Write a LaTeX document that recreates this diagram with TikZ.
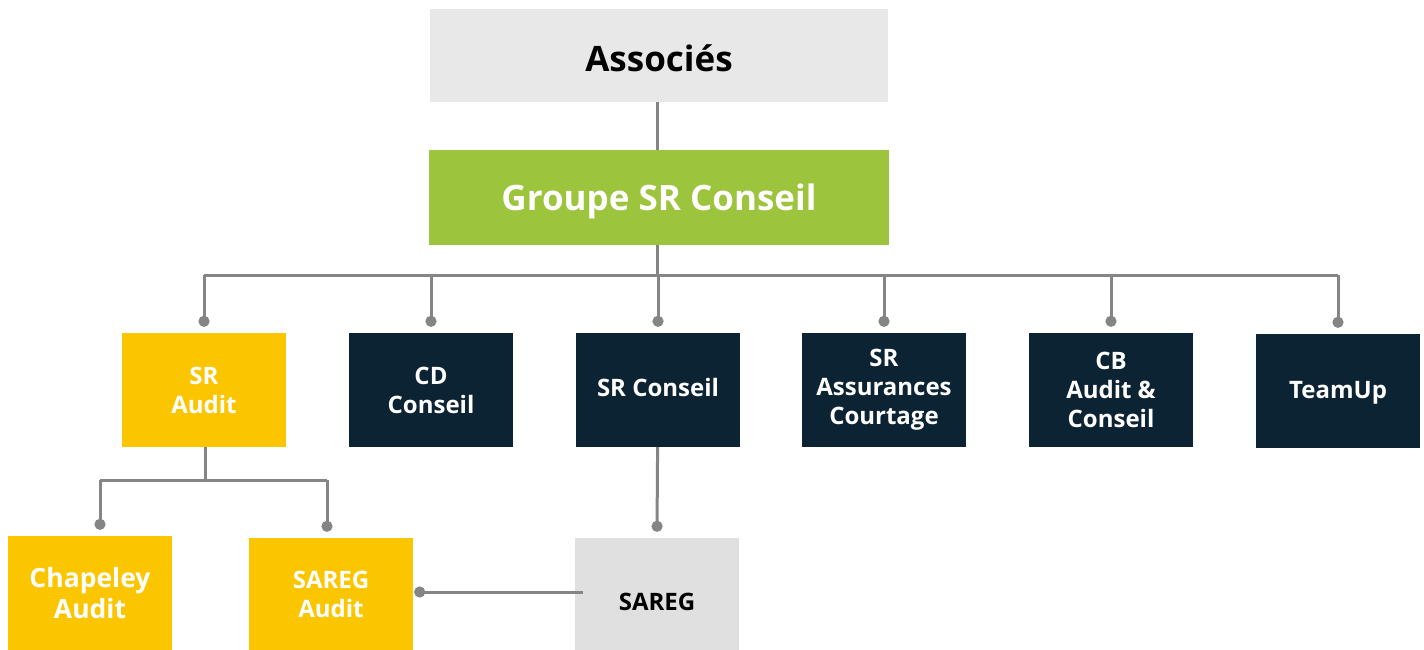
\documentclass[tikz,border=0pt]{standalone}
\usepackage{fontspec}
\setmainfont{Open Sans}
\usepackage{tikz}
\usetikzlibrary{arrows.meta}

\definecolor{topgray}{HTML}{E8E8E8}
\definecolor{saregray}{HTML}{E0E0E0}
\definecolor{groupgreen}{HTML}{9CC43C}
\definecolor{audityellow}{HTML}{FBC600}
\definecolor{navy}{HTML}{0C2333}
\definecolor{linkgray}{HTML}{858585}

% move a one-line label up or down inside its box
\newcommand{\nudge}[2]{\raisebox{#1}[\height][\depth]{#2}}

\begin{document}
\begin{tikzpicture}[x=1pt,y=-1pt,
    unit/.style={minimum width=164pt, minimum height=114pt, inner sep=0pt, align=center,
        font=\bfseries\fontsize{24}{29}\selectfont, text=white},
    navybox/.style={unit, fill=navy},
    yellowbox/.style={unit, fill=audityellow},
    banner/.style={minimum height=94pt, inner sep=0pt, font=\bfseries\fontsize{35}{40}\selectfont},
    link/.style={linkgray, line width=3pt},
    dotlink/.style={link, -{Circle[length=11pt]}}]
    \useasboundingbox (0,0) rectangle (1424,650);
    % top of the group
    \node[banner, fill=topgray, minimum width=458pt, minimum height=93pt] (assoc) at (659,55.5) {\nudge{-3pt}{Associés}};
    \node[banner, fill=groupgreen, text=white, minimum width=460pt, minimum height=95pt] (groupe) at (659,197.5) {\nudge{-4pt}{Groupe SR Conseil}};
    % subsidiaries
    \node[yellowbox] (sraudit) at (204,390) {SR\\Audit};
    \node[navybox] (cdconseil) at (431,390) {CD\\Conseil};
    \node[navybox] (srconseil) at (658,390) {\nudge{3pt}{SR Conseil}};
    \node[navybox] (srassur) at (884,390) {SR\\Assurances\\Courtage};
    \node[navybox] (cbaudit) at (1111,390) {CB\\Audit \&\\Conseil};
    \node[navybox] (teamup) at (1338,391) {\nudge{-2pt}{TeamUp}};
    % second level
    \node[yellowbox, font=\bfseries\fontsize{26.5}{31}\selectfont] (chapeley) at (90,593) {Chapeley\\Audit};
    \node[yellowbox, minimum height=112pt] (saregaudit) at (331,594) {SAREG\\Audit};
    \node[unit, fill=saregray, text=black, minimum height=112pt] (sareg) at (657,594) {\nudge{-8pt}{SAREG}};
    % links
    \coordinate (bus) at (657,275);
    \coordinate (subbus) at (205,480);
    \draw[link] (assoc.south -| bus) -- (groupe.north -| bus);
    \draw[link] (groupe.south -| bus) -- (bus);
    \draw[link] (sraudit.north |- bus) -- (teamup.north |- bus);
    \foreach \n in {sraudit,cdconseil,srconseil,srassur,cbaudit,teamup}
        \draw[dotlink] (\n.north |- bus) -- ([yshift=6pt]\n.north);
    \draw[link] (sraudit.south -| subbus) -- (subbus);
    \draw[link] ([xshift=10pt]chapeley.north |- subbus) -- ([xshift=-4pt]saregaudit.north |- subbus);
    \draw[dotlink] ([xshift=10pt]chapeley.north |- subbus) -- ([xshift=10pt,yshift=6pt]chapeley.north);
    \draw[dotlink] ([xshift=-4pt]saregaudit.north |- subbus) -- ([xshift=-4pt,yshift=6pt]saregaudit.north);
    \draw[dotlink] (srconseil) -- ([yshift=6pt]sareg.north);
    \draw[link, {Circle[length=11pt]}-] ([xshift=1pt,yshift=2pt]saregaudit.east) -- ([xshift=8pt,yshift=2pt]sareg.west);
\end{tikzpicture}
\end{document}
